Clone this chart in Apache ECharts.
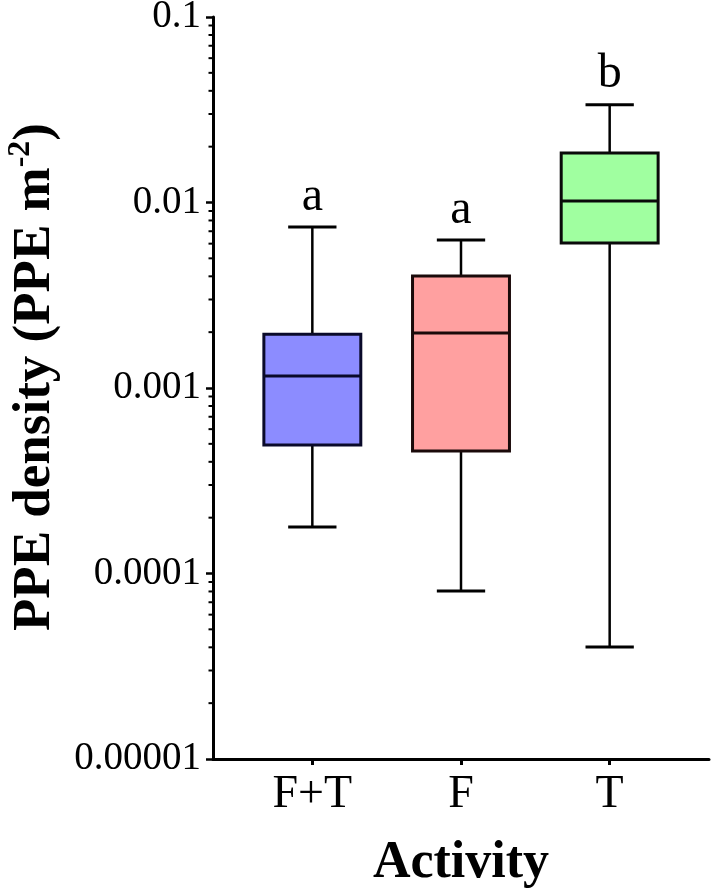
<!DOCTYPE html>
<html>
<head>
<meta charset="utf-8">
<script src="https://cdn.jsdelivr.net/npm/echarts@6/dist/echarts.min.js"></script>
<style>html,body{margin:0;padding:0;background:#fff}#c{width:715px;height:893px}</style>
</head>
<body>
<div id="c"></div>
<script>
const categories = ['F+T', 'F', 'T'];
const whiskerLow = [0.000178, 0.0000805, 0.0000402];
const q1 = [0.000493, 0.000457, 0.00605];
const medians = [0.00116, 0.00198, 0.0102];
const q3 = [0.00195, 0.00402, 0.0185];
const whiskerHigh = [0.00738, 0.00628, 0.0336];
const sigLetters = ['a', 'a', 'b'];
const yTickLabels = ['0.00001', '0.0001', '0.001', '0.01', '0.1'];
const yMin = 0.00001, yMax = 0.1;

const boxFill = ['#8C8CFF', '#FFA0A0', '#A0FFA0'];
const boxStroke = ['#0a0a2a', '#1a0a0a', '#0a0a0a'];
const serif = '"Liberation Serif", "Times New Roman", serif';

// minor tick values (2..9 x decade) for the log axis
const minorTicks = [];
for (let e = -5; e < -1; e++) {
  for (let k = 2; k <= 9; k++) minorTicks.push(k * Math.pow(10, e));
}

const boxData = categories.map((c, i) => [i, whiskerLow[i], q1[i], medians[i], q3[i], whiskerHigh[i]]);

const chart = echarts.init(document.getElementById('c'), null, {renderer: 'canvas'});

function renderBox(params, api) {
  const i = api.value(0);
  const pLow = api.coord([i, api.value(1)]);
  const pQ1 = api.coord([i, api.value(2)]);
  const pMed = api.coord([i, api.value(3)]);
  const pQ3 = api.coord([i, api.value(4)]);
  const pHigh = api.coord([i, api.value(5)]);
  const band = api.coord([1, api.value(3)])[0] - api.coord([0, api.value(3)])[0];
  const bw = band * 0.652, cw = band * 0.325;
  const x = pMed[0];
  const lineStyle = {stroke: '#000', lineWidth: 2.5};
  return {
    type: 'group',
    children: [
      {type: 'line', shape: {x1: x, y1: pHigh[1], x2: x, y2: pQ3[1]}, style: lineStyle},
      {type: 'line', shape: {x1: x, y1: pQ1[1], x2: x, y2: pLow[1]}, style: lineStyle},
      {type: 'line', shape: {x1: x - cw / 2, y1: pHigh[1], x2: x + cw / 2, y2: pHigh[1]}, style: {stroke: '#000', lineWidth: 3}},
      {type: 'line', shape: {x1: x - cw / 2, y1: pLow[1], x2: x + cw / 2, y2: pLow[1]}, style: {stroke: '#000', lineWidth: 3}},
      {type: 'rect', shape: {x: x - bw / 2, y: pQ3[1], width: bw, height: pQ1[1] - pQ3[1]},
        style: {fill: boxFill[i], stroke: boxStroke[i], lineWidth: 3}},
      {type: 'line', shape: {x1: x - bw / 2, y1: pMed[1], x2: x + bw / 2, y2: pMed[1]},
        style: {stroke: boxStroke[i], lineWidth: 3}},
      {type: 'text', style: {text: sigLetters[i], x: x, y: pHigh[1] - 6, align: 'center', verticalAlign: 'bottom',
        fontSize: 48, fontFamily: serif, fill: '#000'}}
    ]
  };
}

function renderMinor(params, api) {
  const p = api.coord([0, api.value(1)]);
  return {type: 'line', shape: {x1: p[0] - 4.5, y1: p[1], x2: p[0], y2: p[1]}, style: {stroke: '#000', lineWidth: 2}};
}

chart.setOption({
  backgroundColor: '#fff',
  animation: false,
  grid: [
    {left: 213, right: 6, top: 17, bottom: 134, outerBoundsMode: 'none', containLabel: false},
    {left: 238, right: 31, top: 17, bottom: 134, outerBoundsMode: 'none', containLabel: false}
  ],
  xAxis: [
    {gridIndex: 0, type: 'value', min: 0, max: 1,
      axisLine: {show: true, lineStyle: {color: '#000', width: 3}},
      axisTick: {show: false}, axisLabel: {show: false}, splitLine: {show: false}},
    {gridIndex: 1, type: 'category', data: categories,
      axisLine: {show: false},
      axisTick: {show: true, alignWithLabel: true, length: 6, lineStyle: {color: '#000', width: 3}},
      axisLabel: {color: '#000', fontSize: 46, fontFamily: serif, margin: 13},
      name: 'Activity', nameLocation: 'middle', nameGap: 79,
      nameTextStyle: {color: '#000', fontSize: 52, fontWeight: 'bold', fontFamily: serif},
      splitLine: {show: false}}
  ],
  yAxis: [
    {gridIndex: 0, type: 'log', logBase: 10, min: yMin, max: yMax,
      axisLine: {show: true, lineStyle: {color: '#000', width: 3}},
      axisTick: {show: true, length: 7, lineStyle: {color: '#000', width: 2.5}},
      axisLabel: {color: '#000', fontSize: 39, fontFamily: serif, margin: 12,
        formatter: function (v) {
          const idx = Math.round(Math.log10(v) - Math.log10(yMin));
          return yTickLabels[idx] !== undefined ? yTickLabels[idx] : '';
        }},
      splitLine: {show: false},
      name: '{t|PPE density (PPE m}{s|-2}{t|)}', nameLocation: 'middle', nameGap: 148,
      nameTextStyle: {
        padding: [0, 0, 0, 22],
        rich: {
          t: {fontSize: 53, fontWeight: 'bold', fontFamily: serif, color: '#000', lineHeight: 60},
          s: {fontSize: 32, fontWeight: 'bold', fontFamily: serif, color: '#000', verticalAlign: 'top', lineHeight: 60}
        }
      }},
    {gridIndex: 1, type: 'log', logBase: 10, min: yMin, max: yMax, show: false}
  ],
  series: [
    {type: 'custom', xAxisIndex: 0, yAxisIndex: 0, renderItem: renderMinor,
      data: minorTicks.map(v => [0, v]), silent: true, clip: false},
    {type: 'custom', xAxisIndex: 1, yAxisIndex: 1, renderItem: renderBox,
      encode: {x: 0, y: [1, 2, 3, 4, 5]}, data: boxData, silent: true, clip: false}
  ]
});
</script>
</body>
</html>
